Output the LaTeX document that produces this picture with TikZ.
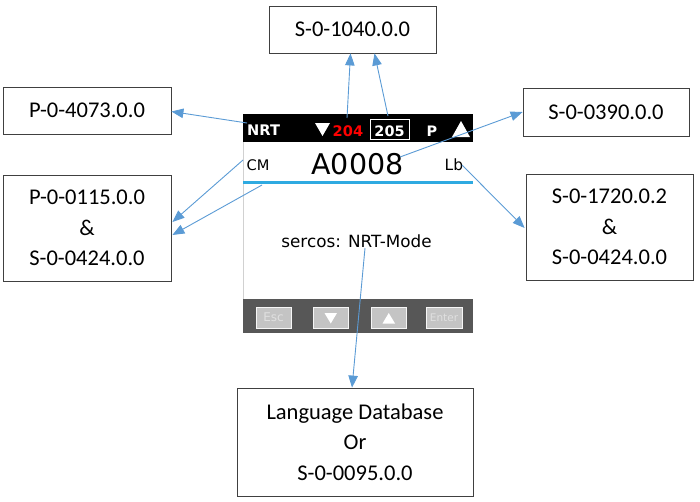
\documentclass[tikz,border=0pt]{standalone}
\usepackage{fontspec}
\setmainfont{Carlito}
\newfontfamily\dv{DejaVu Sans}
\usetikzlibrary{arrows.meta,calc}
\definecolor{arrblue}{HTML}{5B9BD5}
\definecolor{boxgray}{HTML}{404040}
\definecolor{lineblue}{HTML}{2EAAE1}
\definecolor{bargray}{HTML}{575757}
\definecolor{btngray}{HTML}{C4C4C4}
\begin{document}
\begin{tikzpicture}[x=1pt,y=-1pt,
  infobox/.style={draw=boxgray,line width=0.8pt,minimum width=#1,inner sep=0pt,align=center,
     font=\fontsize{22.5}{30.5}\selectfont},
  arr/.style={draw=arrblue,line width=0.9pt,-{Triangle[length=12pt,width=9.5pt]}},
  disp/.style={inner sep=0pt,font=\dv\fontsize{14.4}{16}\selectfont},
  btn/.style={fill=btngray,draw=white!85!btngray,line width=0.6pt},
  btntext/.style={inner sep=0pt,text=white!88!black,font=\dv\fontsize{12}{13}\selectfont}]
\useasboundingbox (0,0) rectangle (700,501);
% ---- display ----
\fill[white] (243,114) rectangle (473,333);
\draw[black!18,line width=0.8pt] (243,142) -- (243,299);
\fill[black] (243,114) rectangle (473,142);
\fill[lineblue] (243,180.5) rectangle (473,184);
\fill[bargray] (243,299) rectangle (473,333);
% top bar
\node[disp,anchor=base west,text=white,font=\dv\bfseries\fontsize{14.6}{16}\selectfont] (nrt) at (247,135) {NRT};
\fill[white] (315,123) -- (330,123) -- (322.5,136) -- cycle;
\node[disp,anchor=base west,text=red,font=\dv\bfseries\fontsize{14.6}{16}\selectfont] (n204) at (332.5,136) {204};
\draw[white,line width=0.9pt] (370,119) rectangle (409,139);
\node[disp,anchor=base,text=white,font=\dv\bfseries\fontsize{14.4}{16}\selectfont] (n205) at (389.5,136) {205};
\node[disp,anchor=base west,text=white,font=\dv\bfseries\fontsize{14.4}{16}\selectfont] (pp) at (426.5,136) {P};
\fill[white] (452,137) -- (470,137) -- (461,121) -- cycle;
% second row
\node[disp,anchor=base west,font=\dv\fontsize{14.6}{16}\selectfont] (cm) at (246.5,170) {CM};
\node[disp,anchor=base,font=\dv\fontsize{28.5}{30}\selectfont] (a0008) at (357.5,174) {A0008};
\node[disp,anchor=base west,font=\dv\fontsize{15.5}{16}\selectfont] (lb) at (444.5,170) {Lb};
\node[disp,anchor=base,font=\dv\fontsize{16.8}{18}\selectfont] (sercos) at (356.5,247) {sercos: NRT-Mode};
% buttons
\draw[btn] (256,307) rectangle (291,328);
\node[btntext] (esc) at (273.5,317.5) {Esc};
\draw[btn] (313,307) rectangle (348,328);
\fill[white] (324.5,313) -- (337,313) -- (330.75,323.5) -- cycle;
\draw[btn] (371,307) rectangle (406,328);
\fill[white] (382.5,323.5) -- (395,323.5) -- (388.75,313) -- cycle;
\draw[btn] (426,307) rectangle (462,328);
\node[btntext,font=\dv\fontsize{10.5}{12}\selectfont] (enter) at (444,317.5) {Enter};
% ---- info boxes ----
\node[infobox=167pt,minimum height=47pt] (s1040) at (352.5,29.5) {S-0-1040.0.0};
\node[infobox=168pt,minimum height=47pt] (p4073) at (87,110.5) {P-0-4073.0.0};
\node[infobox=166pt,minimum height=48pt] (s0390) at (606,112) {S-0-0390.0.0};
\node[infobox=168pt,minimum height=106pt] (p0115) at (87,228) {P-0-0115.0.0\\\&\\S-0-0424.0.0};
\node[infobox=167pt,minimum height=106pt] (s1720) at (609.5,227) {S-0-1720.0.2\\\&\\S-0-0424.0.0};
\node[infobox=236pt,minimum height=108pt] (lang) at (355,442) {Language Database\\Or\\S-0-0095.0.0};
% ---- connectors ----
\coordinate (c1) at (247,123);
\coordinate (c2) at (347,118);
\coordinate (c3) at (388,116);
\coordinate (c4) at (400,157);
\coordinate (c5) at (462,165);
\coordinate (c6) at (243,160);
\coordinate (c7) at (262,185);
\coordinate (c8) at (365,248);
\draw[arr] (c1) -- ($(p4073.east)+(0,1)$);
\draw[arr] (c2) -- ($(s1040.south)+(-2,0)$);
\draw[arr] (c3) -- ($(s1040.south)+(22,0)$);
\draw[arr] (c4) -- (s0390.west);
\draw[arr] (c5) -- ($(s1720.west)+(-1,1)$);
\draw[arr] (c6) -- ($(p0115.east)+(1,-6)$);
\draw[arr] (c7) -- ($(p0115.east)+(1,7)$);
\draw[arr] (c8) -- ($(lang.north)+(-3,0)$);
\end{tikzpicture}
\end{document}
